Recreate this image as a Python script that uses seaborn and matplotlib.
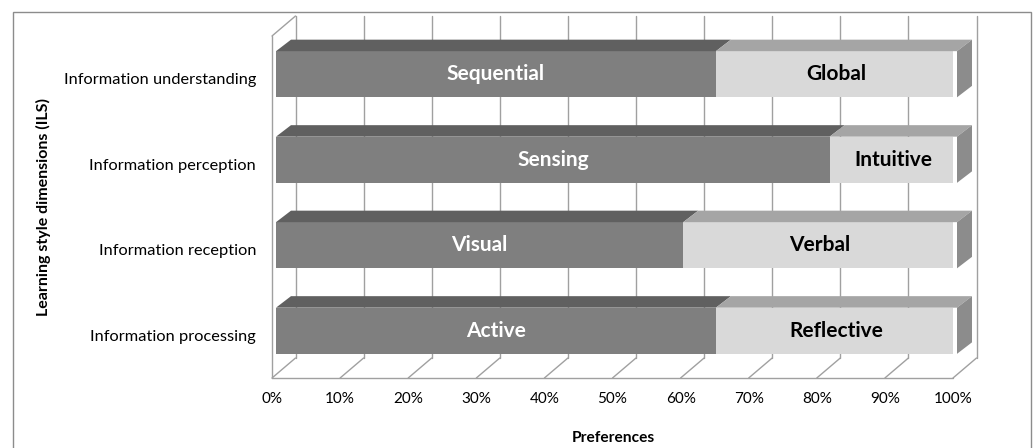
import numpy as np
import pandas as pd
import matplotlib
matplotlib.use("Agg")
import matplotlib.pyplot as plt
from matplotlib.patches import Polygon, Rectangle
from matplotlib.lines import Line2D
import seaborn as sns

# ---- data -------------------------------------------------------------
dimensions = ["Information understanding", "Information perception",
              "Information reception", "Information processing"]
left_styles = ["Sequential", "Sensing", "Visual", "Active"]
right_styles = ["Global", "Intuitive", "Verbal", "Reflective"]
left_share = [64.6, 81.3, 59.8, 64.6]     # % preferring the left pole
right_share = [35.4, 18.7, 40.2, 35.4]    # % preferring the right pole
tick_values = [0, 10, 20, 30, 40, 50, 60, 70, 80, 90, 100]
tick_labels = ["0%", "10%", "20%", "30%", "40%", "50%",
               "60%", "70%", "80%", "90%", "100%"]

# ---- style ------------------------------------------------------------
sns.set_theme(style="white")
plt.rcParams["font.family"] = ["Lato", "DejaVu Sans"]

DARK_FRONT, DARK_TOP = "#7f7f7f", "#606060"
LIGHT_FRONT, LIGHT_TOP, LIGHT_SIDE = "#d9d9d9", "#a5a5a5", "#8c8c8c"
GRID = "#a0a0a0"
BAR_W = 0.54

W, H, DPI = 1033, 448, 100
fig = plt.figure(figsize=(W / DPI, H / DPI), dpi=DPI)
fig.patch.set_facecolor("white")

# front plane of the 3-D box
x0_px, x1_px, ytop_px, ybot_px = 272, 953, 36, 378
ax = fig.add_axes([x0_px / W, 1 - ybot_px / H,
                   (x1_px - x0_px) / W, (ybot_px - ytop_px) / H])

df = pd.DataFrame({
    "dimension": dimensions,
    "left": left_share,
    "total": [a + b for a, b in zip(left_share, right_share)],
})

sns.barplot(data=df, x="total", y="dimension", order=dimensions, orient="h",
            color=LIGHT_FRONT, saturation=1, width=BAR_W, errorbar=None,
            linewidth=0, ax=ax, zorder=3)
sns.barplot(data=df, x="left", y="dimension", order=dimensions, orient="h",
            color=DARK_FRONT, saturation=1, width=BAR_W, errorbar=None,
            linewidth=0, ax=ax, zorder=3)

ax.set_xlim(0, 100)
ax.set_ylim(3.5, -0.5)
ax.set_xlabel("")
ax.set_ylabel("")
ax.patch.set_alpha(0)
for s in ax.spines.values():
    s.set_visible(False)


def px_to_data(dx_px, dy_px):
    """Convert a screen offset (pixels, y up) into a data-space offset."""
    base = ax.transData.transform((0, 0))
    inv = ax.transData.inverted()
    return inv.transform(base + np.array([dx_px, dy_px])) - inv.transform(base)


FRONT = px_to_data(4, 4.5)     # bar front face sits slightly behind the box front
DEPTH = px_to_data(15, 11.5)   # bar depth
BACK = px_to_data(23.5, 20)    # back wall

# move the bar fronts into the box
for p in ax.patches:
    p.set_x(p.get_x() + FRONT[0])
    p.set_y(p.get_y() + FRONT[1])

# ---- box walls / gridlines -------------------------------------------
line_kw = dict(color=GRID, lw=1.0, clip_on=False, zorder=1)
ylo, yhi = -0.5, 3.5
for t in tick_values:
    ax.add_line(Line2D([t + BACK[0]] * 2, [ylo + BACK[1], yhi + BACK[1]], **line_kw))
    ax.add_line(Line2D([t, t + BACK[0]], [yhi, yhi + BACK[1]], **line_kw))
ax.add_line(Line2D([0, 100], [yhi, yhi], **line_kw))
ax.add_line(Line2D([0, 0], [ylo, yhi], **line_kw))
ax.add_line(Line2D([0, BACK[0]], [ylo, ylo + BACK[1]], **line_kw))

# ---- 3-D faces of the bars --------------------------------------------
fx = FRONT[0]
dx, dy = DEPTH
for i, (lv, rv) in enumerate(zip(left_share, right_share)):
    yt = i - BAR_W / 2 + FRONT[1]
    yb = i + BAR_W / 2 + FRONT[1]
    end = lv + rv
    for a, b, c in [(0, lv, DARK_TOP), (lv, end, LIGHT_TOP)]:
        ax.add_patch(Polygon([(a + fx, yt), (b + fx, yt),
                              (b + fx + dx, yt + dy), (a + fx + dx, yt + dy)],
                             closed=True, facecolor=c, edgecolor="none",
                             clip_on=False, zorder=3))
    ax.add_patch(Polygon([(end + fx, yt), (end + fx + dx, yt + dy),
                          (end + fx + dx, yb + dy), (end + fx, yb)],
                         closed=True, facecolor=LIGHT_SIDE, edgecolor="none",
                         clip_on=False, zorder=3))
    yc = i + FRONT[1]
    ax.text(lv / 2 + fx, yc, left_styles[i], ha="center", va="center",
            fontsize=15, fontweight="bold", color="white", zorder=5)
    ax.text(lv + rv / 2 + fx, yc, right_styles[i], ha="center", va="center",
            fontsize=15, fontweight="bold", color="black", zorder=5)

# ---- axes text ----------------------------------------------------------
ax.set_yticks(range(len(dimensions)))
ax.set_yticklabels(dimensions)
ax.tick_params(axis="y", length=0, pad=11.5, labelsize=11.8, labelcolor="black")
ax.set_xticks(tick_values)
ax.set_xticklabels(tick_labels)
ax.tick_params(axis="x", length=0, pad=10.0, labelsize=11, labelcolor="black")

fig.text(613 / W, 1 - 438 / H, "Preferences", ha="center", va="center",
         fontsize=11.2, fontweight="bold", color="black")
fig.text(43 / W, 1 - 207 / H, "Learning style dimensions (ILS)", ha="center",
         va="center", rotation=90, fontsize=11.5, fontweight="bold", color="black")

# chart frame
fig.add_artist(Rectangle((13 / W, -0.1), (1031 - 13) / W, 1.1 - 12 / H,
                         transform=fig.transFigure, fill=False,
                         edgecolor="#8c8c8c", lw=1.0))

fig.savefig("out.png", dpi=DPI, facecolor="white")
